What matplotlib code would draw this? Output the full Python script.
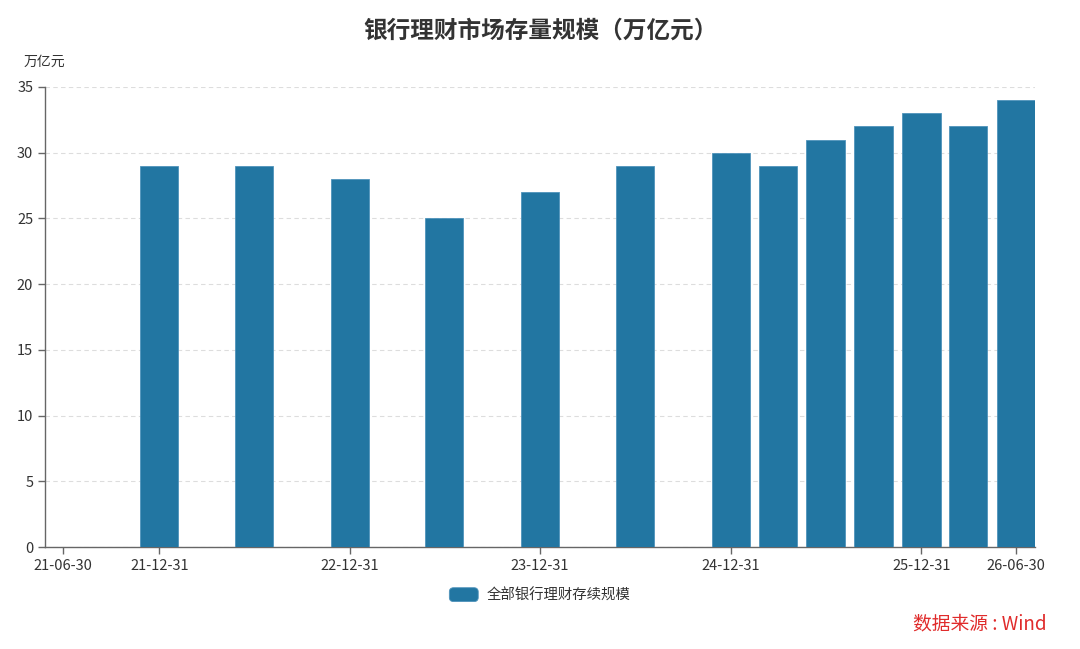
import numpy as np
import pandas as pd
import matplotlib
matplotlib.use("Agg")
import matplotlib.pyplot as plt
import matplotlib.dates as mdates
from matplotlib.patches import FancyBboxPatch
from matplotlib.legend_handler import HandlerPatch

plt.rcParams['font.family'] = ['Noto Sans CJK SC', 'DejaVu Sans']

# 数据
dates = ["2021-12-31", "2022-06-30", "2022-12-31", "2023-06-30", "2023-12-31",
         "2024-06-30", "2024-12-31", "2025-03-31", "2025-06-30", "2025-09-30",
         "2025-12-31", "2026-03-31", "2026-06-30"]
values = [29, 29, 28, 25, 27, 29, 30, 29, 31, 32, 33, 32, 34]
tick_dates = ["2021-06-30", "2021-12-31", "2022-12-31", "2023-12-31",
              "2024-12-31", "2025-12-31", "2026-06-30"]
series_name = "全部银行理财存续规模"

bar_color = "#2276a2"
grey = "#333333"

x = pd.to_datetime(dates)
ticks = pd.to_datetime(tick_dates)


# 圆角图例色块
class RoundHandler(HandlerPatch):
    def create_artists(self, legend, orig_handle, xdescent, ydescent,
                       width, height, fontsize, trans):
        p = FancyBboxPatch((-xdescent, -ydescent), width, height,
                           boxstyle="round,pad=0,rounding_size=3",
                           facecolor=bar_color, edgecolor="#4f93bb",
                           linewidth=0.6, transform=trans)
        return [p]


fig = plt.figure(figsize=(10.8, 6.49), dpi=100)
ax = fig.add_axes([0.0417, 0.157, 0.9166, 0.709])

bars = ax.bar(x, values, width=73, color=bar_color, edgecolor="#4f93bb",
              linewidth=0.6, label=series_name, zorder=3)

ax.set_xlim(ticks[0] - pd.Timedelta(days=35), ticks[-1] + pd.Timedelta(days=36.5))
ax.set_ylim(0, 35)
ax.set_yticks(np.arange(0, 36, 5))
ax.set_xticks(ticks)
ax.xaxis.set_major_formatter(mdates.DateFormatter("%y-%m-%d"))

ax.grid(axis="y", linestyle=(0, (4, 3)), color="#dddddd", linewidth=0.8, zorder=0)
for s in ["top", "right"]:
    ax.spines[s].set_visible(False)
for s in ["left", "bottom"]:
    ax.spines[s].set_color("#666666")
    ax.spines[s].set_linewidth(1.0)
ax.tick_params(axis="both", colors="#666666", labelcolor=grey, labelsize=10.5,
               length=5, width=1)

fig.text(0.5, 0.953, "银行理财市场存量规模（万亿元）", ha="center", va="center",
         fontsize=17, fontweight="bold", color=grey)
fig.text(0.022, 0.905, "万亿元", ha="left", va="center", fontsize=10, color=grey)

# 图例
leg = fig.legend(handles=[bars], labels=[series_name], loc="center",
                 bbox_to_anchor=(0.5, 0.083), frameon=False,
                 fontsize=10.4, handlelength=2.0, handleheight=1.1,
                 handletextpad=0.6, handler_map={type(bars): RoundHandler()})
for t in leg.get_texts():
    t.set_color(grey)

fig.text(0.969, 0.038, "数据来源 : Wind", ha="right", va="center",
         fontsize=13.5, color="#e02b2b")

fig.savefig("out.png", dpi=100)
